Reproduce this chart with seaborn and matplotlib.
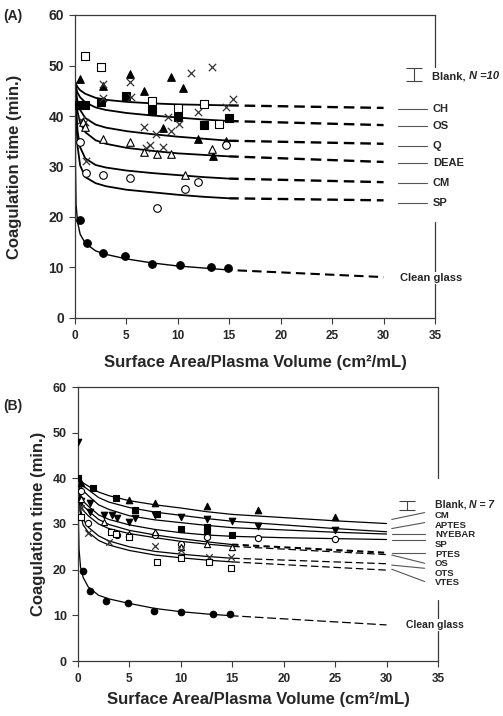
import matplotlib
matplotlib.use("Agg")
import matplotlib.pyplot as plt
import seaborn as sns

# ---------------- panel A: measured points ----------------
A_sq_open_x = [1.0, 2.5, 7.5, 10.0, 12.5, 14.0]
A_sq_open_y = [51.9, 49.7, 43.0, 41.6, 42.3, 38.4]
A_sq_fill_x = [0.4, 1.0, 2.5, 5.0, 7.5, 10.0, 12.5, 15.0]
A_sq_fill_y = [42.2, 42.1, 42.7, 44.0, 41.2, 39.8, 38.2, 39.7]
A_tri_fill_x = [0.5, 2.7, 5.3, 6.7, 8.6, 9.3, 10.5, 12.0, 13.4, 14.7]
A_tri_fill_y = [47.3, 46.0, 48.3, 45.0, 37.7, 47.7, 45.6, 35.4, 32.1, 35.0]
A_cross_x = [0.6, 1.0, 1.1, 2.7, 2.7, 5.3, 5.4, 6.7, 6.9, 7.3, 7.9, 8.6, 9.0, 9.3, 10.1, 11.3, 12.0, 13.3, 14.7, 15.4]
A_cross_y = [39.3, 38.8, 31.0, 46.4, 43.6, 46.8, 43.8, 37.8, 33.7, 34.3, 36.4, 33.9, 39.9, 37.0, 38.5, 48.6, 40.7, 49.8, 41.7, 43.4]
A_tri_open_x = [0.8, 1.0, 2.7, 5.3, 6.7, 8.0, 9.3, 10.7, 13.3]
A_tri_open_y = [38.9, 37.9, 35.4, 34.9, 32.9, 32.4, 32.5, 28.4, 33.4]
A_circ_open_x = [0.5, 1.1, 2.7, 5.3, 8.0, 10.7, 12.0, 14.7]
A_circ_open_y = [34.9, 28.7, 28.4, 27.8, 21.8, 25.5, 27.0, 34.3]
A_glass_x = [0.5, 1.2, 2.7, 4.9, 7.5, 10.2, 13.2, 14.9]
A_glass_y = [19.5, 14.9, 12.8, 12.3, 10.7, 10.5, 10.0, 9.9]

# fitted curves (solid part) and extrapolation (dashed)
A_fit_x = [0.02, 0.1, 0.25, 0.5, 1, 2, 3, 5, 7.5, 10, 12.5, 15]
A_CH_fit = [46.8, 46.3, 45.7, 45.1, 44.4, 43.6, 43.2, 42.8, 42.5, 42.3, 42.2, 42.1]
A_OS_fit = [46.6, 45.6, 44.6, 43.7, 42.7, 41.7, 41.2, 40.6, 40.1, 39.7, 39.3, 39.0]
A_Q_fit = [46.5, 44.8, 42.8, 41.2, 39.6, 38.3, 37.7, 37.0, 36.4, 35.9, 35.5, 35.1]
A_DEAE_fit = [46.4, 43.8, 40.8, 38.6, 36.8, 35.2, 34.5, 33.7, 33.1, 32.6, 32.3, 32.0]
A_CM_fit = [46.3, 42.0, 37.0, 33.8, 31.6, 30.3, 29.8, 29.2, 28.7, 28.3, 27.9, 27.6]
A_SP_fit = [46.2, 40.5, 34.0, 30.2, 27.9, 26.7, 26.1, 25.4, 24.9, 24.4, 24.0, 23.7]
A_glass_fit_x = [0.02, 0.05, 0.1, 0.25, 0.5, 1, 2, 3, 5, 7.5, 10, 12.5, 15]
A_glass_fit = [45.0, 30.0, 22.5, 19.0, 16.6, 14.8, 13.3, 12.6, 11.7, 10.9, 10.3, 9.9, 9.5]
A_ext_x = [15, 30]
A_CH_ext = [42.1, 41.6]
A_OS_ext = [39.0, 38.2]
A_Q_ext = [35.1, 34.5]
A_DEAE_ext = [32.0, 30.9]
A_CM_ext = [27.6, 26.9]
A_SP_ext = [23.7, 23.3]
A_glass_ext = [9.5, 8.1]
A_names = ["CH", "OS", "Q", "DEAE", "CM", "SP"]
A_label_y = [41.4, 38.0, 34.1, 30.7, 26.7, 22.8]
A_blank, A_blank_err = 48.2, 1.3

# ---------------- panel B: measured points ----------------
B_tri_up_x = [0.3, 5.0, 7.5, 12.5, 17.5, 25.0]
B_tri_up_y = [39.0, 35.2, 34.5, 34.0, 33.1, 31.6]
B_sq_fill_x = [0.0, 1.5, 3.7, 5.5, 7.7, 10.0, 12.5, 12.5, 15.0]
B_sq_fill_y = [40.0, 37.8, 35.6, 33.0, 32.1, 28.8, 29.3, 28.4, 27.7]
B_tri_down_x = [0.0, 0.3, 1.2, 1.2, 2.5, 3.3, 3.8, 5.0, 5.5, 7.5, 10.0, 12.5, 15.0, 17.5, 25.0]
B_tri_down_y = [48.0, 35.0, 34.5, 32.7, 31.9, 31.9, 31.4, 30.5, 31.4, 31.9, 31.5, 31.1, 30.6, 29.5, 28.7]
B_circ_open_x = [0.3, 1.0, 3.8, 5.0, 7.5, 10.0, 12.5, 17.5, 25.0]
B_circ_open_y = [37.2, 30.3, 27.7, 27.3, 27.6, 25.6, 27.2, 27.0, 26.7]
B_tri_open_x = [0.3, 2.5, 5.0, 7.5, 10.0, 12.5, 15.0]
B_tri_open_y = [35.5, 30.5, 27.9, 28.3, 25.0, 25.6, 25.0]
B_cross_x = [0.3, 1.0, 3.0, 7.5, 10.0, 12.7, 14.9]
B_cross_y = [33.5, 28.0, 26.1, 25.2, 24.4, 22.8, 22.7]
B_sq_open_x = [0.3, 3.2, 3.7, 5.0, 7.7, 10.0, 12.7, 14.9]
B_sq_open_y = [31.5, 28.3, 27.9, 27.1, 21.7, 22.5, 21.6, 20.3]
B_glass_x = [0.5, 1.2, 2.7, 4.9, 7.4, 10.0, 13.1, 14.8]
B_glass_y = [19.7, 15.3, 13.1, 12.6, 11.0, 10.8, 10.3, 10.2]

B_fit_x = [0.02, 0.1, 0.25, 0.5, 1, 2, 3, 5, 7.5, 10, 12.5, 15]
B_tail_x = [15, 20, 25, 30]
B_CM_fit = [39.9, 39.7, 39.4, 39.0, 38.3, 37.0, 36.2, 35.1, 34.2, 33.5, 32.7, 32.1]
B_CM_tail = [32.1, 31.4, 30.7, 30.1]
B_APTES_fit = [39.8, 39.4, 38.9, 38.3, 37.5, 35.8, 34.8, 33.6, 32.6, 31.9, 31.2, 30.6]
B_APTES_tail = [30.6, 29.8, 29.0, 28.3]
B_NYEBAR_fit = [39.7, 39.0, 38.2, 37.3, 36.2, 34.2, 33.2, 31.8, 30.9, 30.3, 29.7, 29.2]
B_NYEBAR_tail = [29.2, 28.7, 28.2, 27.8]
B_SP_fit = [39.6, 38.0, 36.5, 35.0, 33.9, 32.0, 31.0, 29.8, 28.8, 28.1, 27.6, 27.3]
B_SP_tail = [27.3, 27.0, 26.8, 26.6]
B_ext_x = [15, 30]
B_PTES_fit = [39.5, 37.5, 35.5, 34.0, 32.9, 31.0, 29.9, 28.6, 27.6, 26.8, 26.1, 25.5]
B_PTES_ext = [25.5, 23.7]
B_OS_fit = [39.4, 37.0, 34.8, 33.0, 31.8, 30.0, 29.0, 27.9, 27.0, 26.2, 25.6, 25.1]
B_OS_ext = [25.1, 23.3]
B_OTS_fit = [39.3, 36.0, 33.2, 31.0, 29.3, 27.4, 26.3, 25.0, 24.0, 23.4, 22.9, 22.5]
B_OTS_ext = [22.5, 21.3]
B_VTES_fit = [39.2, 35.0, 32.0, 29.8, 28.2, 26.4, 25.4, 24.2, 23.2, 22.6, 22.1, 21.7]
B_VTES_ext = [21.7, 19.9]
B_glass_fit_x = [0.02, 0.05, 0.1, 0.25, 0.5, 1, 2, 3, 5, 7.5, 10, 12.5, 15]
B_glass_fit = [40.0, 30.0, 24.5, 20.5, 18.3, 16.2, 14.4, 13.6, 12.6, 11.5, 10.8, 10.3, 9.9]
B_glass_ext = [9.9, 7.9]
B_names = ["CM", "APTES", "NYEBAR", "SP", "PTES", "OS", "OTS", "VTES"]
B_label_y = [31.8, 29.7, 27.6, 25.5, 23.4, 21.3, 19.2, 17.1]
B_lead_from = [31.0, 29.0, 27.8, 26.6, 23.7, 23.2, 21.0, 20.1]
B_lead_to = [32.5, 30.3, 27.8, 26.6, 23.7, 21.4, 20.3, 17.4]
B_blank, B_blank_err = 34.05, 1.0

SPINE = "#3a3a3a"

sns.set_theme(style="ticks")
plt.rcParams["font.family"] = ["Liberation Sans", "DejaVu Sans"]
plt.rcParams["font.weight"] = "bold"

W, H = 503, 716
fig = plt.figure(figsize=(W / 100, H / 100), dpi=100)
axA = fig.add_axes([75 / W, 1 - 318 / H, 360 / W, 303 / H])
axB = fig.add_axes([78 / W, 1 - 661 / H, 360 / W, 274 / H])


def style_axes(ax, spine_parts, ysize, ylab_x, xlab_pad):
    ax.set_xlim(0, 35)
    ax.set_ylim(0, 60)
    ax.set_xticks(range(0, 36, 5))
    ax.set_yticks(range(0, 61, 10))
    ax.tick_params(axis="x", labelsize=8.5, length=4, width=0.8, color=SPINE, pad=5)
    ax.tick_params(axis="y", labelsize=ysize, length=4, width=0.8, color=SPINE, pad=4)
    for t in ax.get_xticklabels() + ax.get_yticklabels():
        t.set_fontweight("bold")
    for s in ["left", "bottom", "top"]:
        ax.spines[s].set_color(SPINE)
        ax.spines[s].set_linewidth(0.9)
    # right border is open where the curve names sit
    ax.spines["right"].set_visible(False)
    for y0, y1 in spine_parts:
        ax.plot([1, 1], [y0, y1], transform=ax.transAxes, color=SPINE, lw=0.9,
                clip_on=False, zorder=2.5)
    ax.set_xlabel("Surface Area/Plasma Volume (cm²/mL)", fontsize=12,
                  fontweight="bold", labelpad=xlab_pad)
    ax.set_ylabel("Coagulation time (min.)", fontsize=12, fontweight="bold")
    ax.yaxis.set_label_coords(ylab_x, 0.5)


def points(ax, x, y, marker, filled, s=22):
    if marker == "x":
        sns.scatterplot(x=x, y=y, ax=ax, marker="x", s=s, color="#333333",
                        linewidth=0.9, zorder=4, legend=False)
    else:
        sns.scatterplot(x=x, y=y, ax=ax, marker=marker, s=s,
                        color="black" if filled else "white", edgecolor="black",
                        linewidth=0.8, zorder=4, legend=False)


def blank_label(ax, x, y, n_text, size):
    t = ax.text(x, y, "Blank, ", fontsize=size, fontweight="bold", va="center",
                ha="left", clip_on=False)
    ax.annotate(n_text, xy=(1, 0), xycoords=t, va="bottom", ha="left",
                fontsize=size, fontweight="bold", style="italic")


# ---------------- panel A ----------------
style_axes(axA, [(49.7 / 60, 1.0), (0.0, 19.0 / 60)], 10, -0.147, 9)
for fit, ext in zip([A_CH_fit, A_OS_fit, A_Q_fit, A_DEAE_fit, A_CM_fit, A_SP_fit],
                    [A_CH_ext, A_OS_ext, A_Q_ext, A_DEAE_ext, A_CM_ext, A_SP_ext]):
    sns.lineplot(x=A_fit_x, y=fit, ax=axA, color="black", lw=1.3, legend=False)
    sns.lineplot(x=A_ext_x, y=ext, ax=axA, color="black", lw=1.7,
                 linestyle=(0.5, (4.5, 2.5)), legend=False)
sns.lineplot(x=A_glass_fit_x, y=A_glass_fit, ax=axA, color="black", lw=1.0, legend=False)
sns.lineplot(x=A_ext_x, y=A_glass_ext, ax=axA, color="black", lw=1.5,
             linestyle=(3, (4.5, 2.5)), legend=False)

points(axA, A_sq_open_x, A_sq_open_y, "s", False, 26)
points(axA, A_sq_fill_x, A_sq_fill_y, "s", True, 26)
points(axA, A_tri_fill_x, A_tri_fill_y, "^", True, 30)
points(axA, A_cross_x, A_cross_y, "x", False, 28)
points(axA, A_tri_open_x, A_tri_open_y, "^", False, 30)
points(axA, A_circ_open_x, A_circ_open_y, "o", False, 30)
points(axA, A_glass_x, A_glass_y, "o", True, 30)

for name, y in zip(A_names, A_label_y):
    axA.plot([31.4, 34.2], [y, y], color="#555555", lw=0.8, clip_on=False)
    axA.text(34.8, y, name, fontsize=8, fontweight="bold", va="center",
             ha="left", clip_on=False)
axA.text(31.6, 7.9, "Clean glass", fontsize=8, fontweight="bold", va="center",
         ha="left", clip_on=False, zorder=5,
         bbox=dict(facecolor="white", edgecolor="none", pad=0.5))
axA.errorbar([33.0], [A_blank], yerr=[A_blank_err], fmt="none", ecolor="#444444",
             elinewidth=0.8, capsize=5.5, capthick=0.8)
blank_label(axA, 34.7, 47.9, "N =10", 8)

# ---------------- panel B ----------------
style_axes(axB, [(40.0 / 60, 1.0), (0.0, 13.3 / 60)], 9, -0.089, 5)
for fit, tail in zip([B_CM_fit, B_APTES_fit, B_NYEBAR_fit, B_SP_fit],
                     [B_CM_tail, B_APTES_tail, B_NYEBAR_tail, B_SP_tail]):
    sns.lineplot(x=B_fit_x, y=fit, ax=axB, color="black", lw=0.9, legend=False)
    sns.lineplot(x=B_tail_x, y=tail, ax=axB, color="black", lw=0.9, legend=False)
sns.lineplot(x=B_fit_x, y=B_PTES_fit, ax=axB, color="black", lw=0.9, legend=False)
sns.lineplot(x=B_ext_x, y=B_PTES_ext, ax=axB, color="black", lw=1.5,
             linestyle=(0, (3, 2)), legend=False)
for fit, ext in zip([B_OS_fit, B_OTS_fit, B_VTES_fit], [B_OS_ext, B_OTS_ext, B_VTES_ext]):
    sns.lineplot(x=B_fit_x, y=fit, ax=axB, color="black", lw=0.9, legend=False)
    sns.lineplot(x=B_ext_x, y=ext, ax=axB, color="black", lw=0.9,
                 linestyle=(0, (6, 3)), legend=False)
sns.lineplot(x=B_glass_fit_x, y=B_glass_fit, ax=axB, color="black", lw=0.9, legend=False)
sns.lineplot(x=B_ext_x, y=B_glass_ext, ax=axB, color="black", lw=0.9,
             linestyle=(2, (7, 3)), legend=False)

points(axB, B_tri_up_x, B_tri_up_y, "^", True, 22)
points(axB, B_sq_fill_x, B_sq_fill_y, "s", True, 20)
points(axB, B_tri_down_x, B_tri_down_y, "v", True, 22)
points(axB, B_circ_open_x, B_circ_open_y, "o", False, 20)
points(axB, B_tri_open_x, B_tri_open_y, "^", False, 20)
points(axB, B_cross_x, B_cross_y, "x", False, 22)
points(axB, B_sq_open_x, B_sq_open_y, "s", False, 20)
points(axB, B_glass_x, B_glass_y, "o", True, 22)

for name, y, y0, y1 in zip(B_names, B_label_y, B_lead_from, B_lead_to):
    axB.plot([30.5, 33.7], [y0, y1], color="#555555", lw=0.8, clip_on=False)
    axB.text(34.7, y, name, fontsize=6.8, fontweight="bold", va="center",
             ha="left", clip_on=False)
axB.text(31.9, 7.9, "Clean glass", fontsize=7.5, fontweight="bold", va="center",
         ha="left", clip_on=False, zorder=5,
         bbox=dict(facecolor="white", edgecolor="none", pad=0.5))
axB.errorbar([32.0], [B_blank], yerr=[B_blank_err], fmt="none", ecolor="#444444",
             elinewidth=0.8, capsize=5.5, capthick=0.8)
blank_label(axB, 34.7, 34.2, "N = 7", 7.5)

fig.text(3 / W, 1 - 16 / H, "(A)", fontsize=10, fontweight="bold", va="center")
fig.text(3 / W, 1 - 406 / H, "(B)", fontsize=10, fontweight="bold", va="center")

fig.savefig("out.png", dpi=100, facecolor="white")
